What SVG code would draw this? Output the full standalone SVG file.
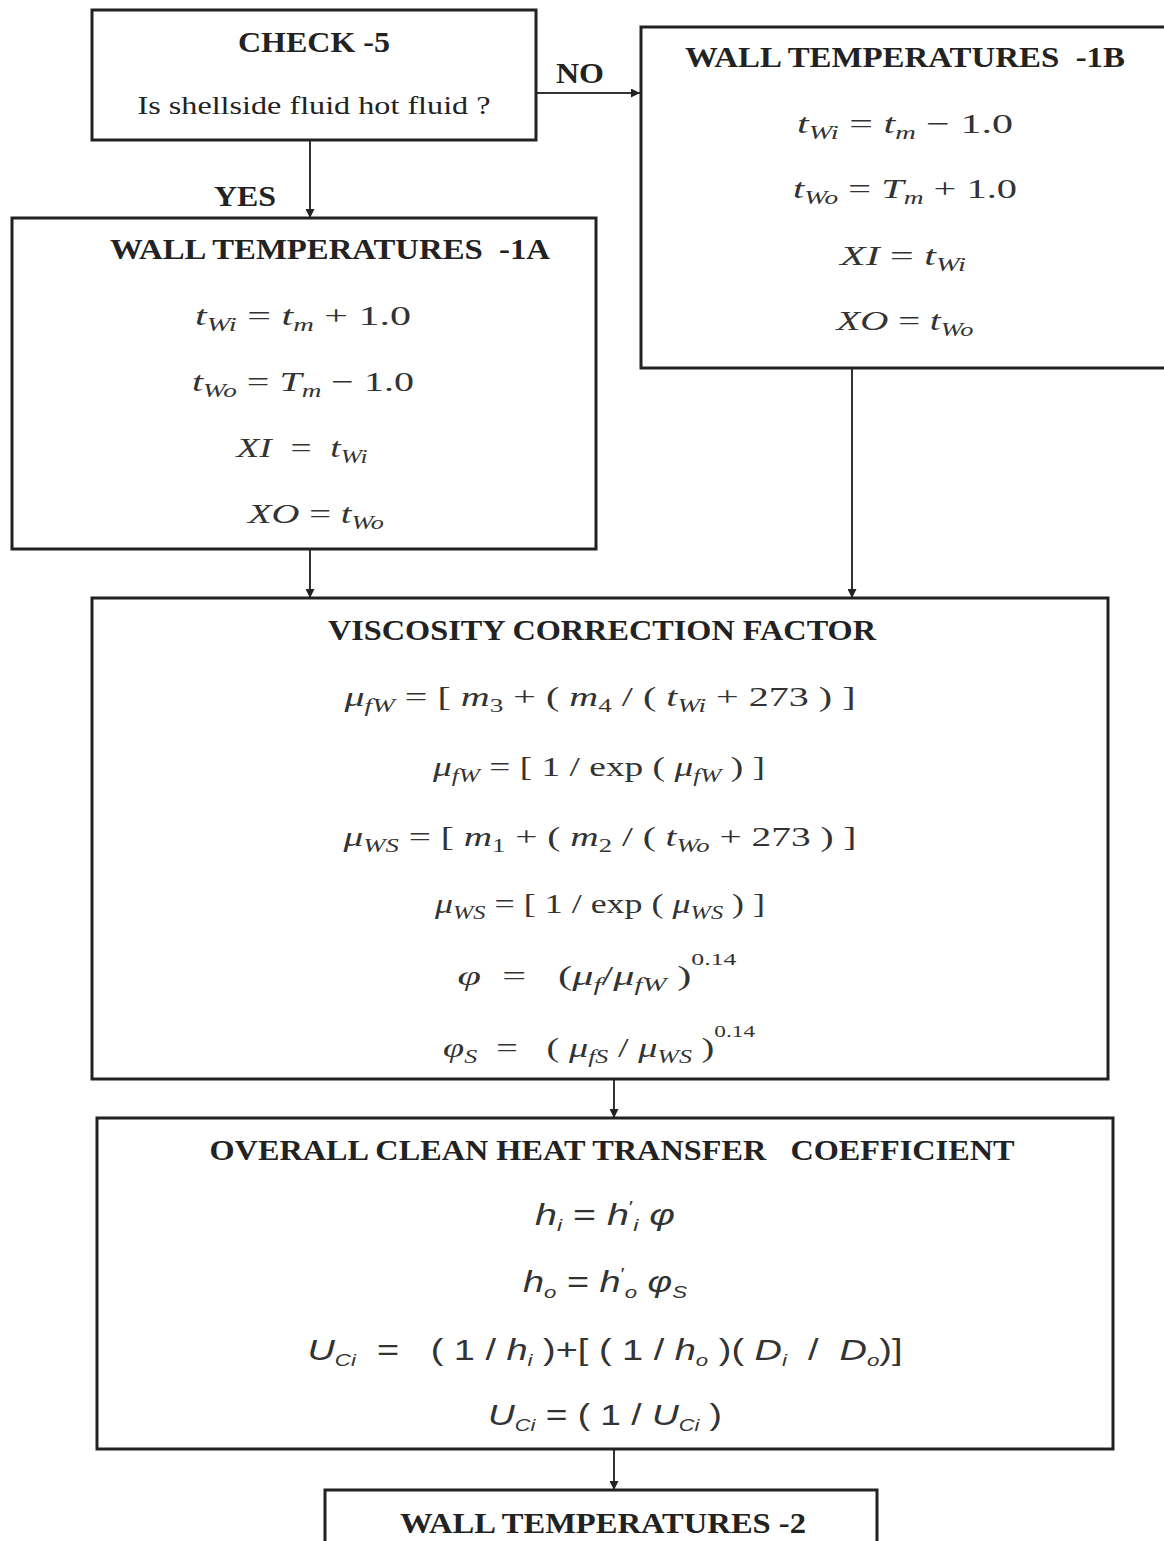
<svg xmlns="http://www.w3.org/2000/svg" width="1164" height="1541" viewBox="0 0 1164 1541">
<defs>
<style>
.box{fill:#fff;stroke:#222;stroke-width:3}
.ttl{font-family:"Liberation Serif","Times New Roman",serif;font-weight:bold;font-size:30px;fill:#222;text-anchor:middle}
.reg{font-family:"Liberation Serif","Times New Roman",serif;font-size:26px;fill:#222;text-anchor:middle}
.eq{font-family:"Liberation Serif","Times New Roman",serif;font-style:italic;font-size:28px;fill:#333;text-anchor:middle}
.eqs{font-family:"Liberation Sans Narrow","Liberation Sans",sans-serif;font-style:italic;font-size:29px;fill:#333;text-anchor:middle}
.up{font-style:normal}
.conn{stroke:#333;stroke-width:2;fill:none;marker-end:url(#ah)}
</style>
<marker id="ah" viewBox="0 0 10 10" refX="10" refY="5" markerWidth="9" markerHeight="9" orient="auto" markerUnits="userSpaceOnUse"><path d="M0,0 L10,5 L0,10 z" fill="#222"/></marker>
</defs>
<rect width="1164" height="1541" fill="#fff"/>

<g id="connectors">
<path class="conn" d="M536,93 H640"/>
<path class="conn" d="M310,140 V218"/>
<path class="conn" d="M310,549 V598"/>
<path class="conn" d="M852,368 V598"/>
<path class="conn" d="M614,1079 V1118"/>
<path class="conn" d="M614,1449 V1490"/>
<text class="ttl" x="580" y="83" font-size="28" textLength="48" lengthAdjust="spacingAndGlyphs">NO</text>
<text class="ttl" x="245" y="206" font-size="28" textLength="62" lengthAdjust="spacingAndGlyphs">YES</text>
</g>

<g id="check5">
<rect class="box" x="92" y="10" width="444" height="130"/>
<text class="ttl" x="314" y="52" textLength="152" lengthAdjust="spacingAndGlyphs">CHECK -5</text>
<text class="reg" x="314" y="114" textLength="353" lengthAdjust="spacingAndGlyphs">Is shellside fluid hot fluid ?</text>
</g>

<g id="wall1b">
<rect class="box" x="641" y="27" width="530" height="341"/>
<text class="ttl" x="905" y="67" textLength="440" lengthAdjust="spacingAndGlyphs" xml:space="preserve">WALL TEMPERATURES  -1B</text>
<text class="eq" x="905" y="133" textLength="216" lengthAdjust="spacingAndGlyphs">t<tspan dy="6" font-size="19">Wi</tspan><tspan dy="-6"> <tspan class="up">=</tspan> t</tspan><tspan dy="6" font-size="19">m</tspan><tspan dy="-6" class="up"> − 1.0</tspan></text>
<text class="eq" x="905" y="198" textLength="224" lengthAdjust="spacingAndGlyphs">t<tspan dy="6" font-size="19">Wo</tspan><tspan dy="-6"> <tspan class="up">=</tspan> T</tspan><tspan dy="6" font-size="19">m</tspan><tspan dy="-6" class="up"> + 1.0</tspan></text>
<text class="eq" x="903" y="265" textLength="126" lengthAdjust="spacingAndGlyphs">XI <tspan class="up">=</tspan> t<tspan dy="6" font-size="19">Wi</tspan></text>
<text class="eq" x="905" y="330" textLength="137" lengthAdjust="spacingAndGlyphs">XO <tspan class="up">=</tspan> t<tspan dy="6" font-size="19">Wo</tspan></text>
</g>

<g id="wall1a">
<rect class="box" x="12" y="218" width="584" height="331"/>
<text class="ttl" x="330" y="259" textLength="440" lengthAdjust="spacingAndGlyphs" xml:space="preserve">WALL TEMPERATURES  -1A</text>
<text class="eq" x="303" y="325" textLength="216" lengthAdjust="spacingAndGlyphs">t<tspan dy="6" font-size="19">Wi</tspan><tspan dy="-6"> <tspan class="up">=</tspan> t</tspan><tspan dy="6" font-size="19">m</tspan><tspan dy="-6" class="up"> + 1.0</tspan></text>
<text class="eq" x="303" y="391" textLength="222" lengthAdjust="spacingAndGlyphs">t<tspan dy="6" font-size="19">Wo</tspan><tspan dy="-6"> <tspan class="up">=</tspan> T</tspan><tspan dy="6" font-size="19">m</tspan><tspan dy="-6" class="up"> − 1.0</tspan></text>
<text class="eq" x="302" y="457" textLength="131" lengthAdjust="spacingAndGlyphs" xml:space="preserve">XI  <tspan class="up">=</tspan>  t<tspan dy="6" font-size="19">Wi</tspan></text>
<text class="eq" x="316" y="523" textLength="136" lengthAdjust="spacingAndGlyphs">XO <tspan class="up">=</tspan> t<tspan dy="6" font-size="19">Wo</tspan></text>
</g>

<g id="viscosity">
<rect class="box" x="92" y="598" width="1016" height="481"/>
<text class="ttl" x="602" y="640" font-size="32" textLength="548" lengthAdjust="spacingAndGlyphs">VISCOSITY CORRECTION FACTOR</text>
<text class="eq" x="600" y="706" textLength="511" lengthAdjust="spacingAndGlyphs">μ<tspan dy="6" font-size="19">fW</tspan><tspan dy="-6" class="up">  = [ </tspan>m<tspan dy="6" font-size="19" class="up">3</tspan><tspan dy="-6" class="up"> + ( </tspan>m<tspan dy="6" font-size="19" class="up">4</tspan><tspan dy="-6" class="up"> / ( </tspan>t<tspan dy="6" font-size="19">Wi</tspan><tspan dy="-6" class="up">  + 273 ) ]</tspan></text>
<text class="eq" x="599" y="776" textLength="332" lengthAdjust="spacingAndGlyphs">μ<tspan dy="6" font-size="19">fW</tspan><tspan dy="-6" class="up">  = [ 1 / exp ( </tspan>μ<tspan dy="6" font-size="19">fW</tspan><tspan dy="-6" class="up"> ) ]</tspan></text>
<text class="eq" x="600" y="846" textLength="513" lengthAdjust="spacingAndGlyphs">μ<tspan dy="6" font-size="19">WS</tspan><tspan dy="-6" class="up">  = [ </tspan>m<tspan dy="6" font-size="19" class="up">1</tspan><tspan dy="-6" class="up"> + ( </tspan>m<tspan dy="6" font-size="19" class="up">2</tspan><tspan dy="-6" class="up"> / ( </tspan>t<tspan dy="6" font-size="19">Wo</tspan><tspan dy="-6" class="up">  + 273 ) ]</tspan></text>
<text class="eq" x="600" y="913" textLength="330" lengthAdjust="spacingAndGlyphs">μ<tspan dy="6" font-size="19">WS</tspan><tspan dy="-6" class="up">  = [ 1 / exp ( </tspan>μ<tspan dy="6" font-size="19">WS</tspan><tspan dy="-6" class="up"> ) ]</tspan></text>
<text class="eq" x="597" y="985" textLength="279" lengthAdjust="spacingAndGlyphs" xml:space="preserve">φ  <tspan class="up">=</tspan>   <tspan class="up">(</tspan>μ<tspan dy="6" font-size="19">f</tspan><tspan dy="-6" class="up">/</tspan>μ<tspan dy="6" font-size="19">fW</tspan><tspan dy="-6" class="up"> )</tspan><tspan dy="-20" font-size="17" class="up">0.14</tspan></text>
<text class="eq" x="599" y="1057" textLength="312" lengthAdjust="spacingAndGlyphs" xml:space="preserve">φ<tspan dy="6" font-size="19">S</tspan><tspan dy="-6" class="up">  =   ( </tspan>μ<tspan dy="6" font-size="19">fS</tspan><tspan dy="-6" class="up"> / </tspan>μ<tspan dy="6" font-size="19">WS</tspan><tspan dy="-6" class="up"> )</tspan><tspan dy="-20" font-size="17" class="up">0.14</tspan></text>
</g>

<g id="overall">
<rect class="box" x="97" y="1118" width="1016" height="331"/>
<text class="ttl" x="612" y="1160" font-size="32" textLength="805" lengthAdjust="spacingAndGlyphs" xml:space="preserve">OVERALL CLEAN HEAT TRANSFER   COEFFICIENT</text>
<text class="eqs" x="605" y="1225" textLength="140" lengthAdjust="spacingAndGlyphs">h<tspan dy="6" font-size="17">i</tspan><tspan dy="-6" class="up"> = </tspan>h<tspan dy="-12" font-size="17" class="up">′</tspan><tspan dy="18" font-size="17">i</tspan><tspan dy="-6"> φ</tspan></text>
<text class="eqs" x="605" y="1292" textLength="164" lengthAdjust="spacingAndGlyphs">h<tspan dy="6" font-size="17">o</tspan><tspan dy="-6" class="up"> = </tspan>h<tspan dy="-12" font-size="17" class="up">′</tspan><tspan dy="18" font-size="17">o</tspan><tspan dy="-6"> φ</tspan><tspan dy="6" font-size="17">S</tspan></text>
<text class="eqs" x="605" y="1360" textLength="595" lengthAdjust="spacingAndGlyphs" xml:space="preserve">U<tspan dy="6" font-size="17">Ci</tspan><tspan dy="-6" class="up">  =   ( 1 / </tspan>h<tspan dy="6" font-size="17">i</tspan><tspan dy="-6" class="up"> )+[ ( 1 / </tspan>h<tspan dy="6" font-size="17">o</tspan><tspan dy="-6" class="up"> )( </tspan>D<tspan dy="6" font-size="17">i</tspan><tspan dy="-6" class="up">  /  </tspan>D<tspan dy="6" font-size="17">o</tspan><tspan dy="-6" class="up">)]</tspan></text>
<text class="eqs" x="605" y="1425" textLength="234" lengthAdjust="spacingAndGlyphs">U<tspan dy="6" font-size="17">Ci</tspan><tspan dy="-6" class="up"> = ( 1 / </tspan>U<tspan dy="6" font-size="17">Ci</tspan><tspan dy="-6" class="up"> )</tspan></text>
</g>

<g id="wall2">
<rect class="box" x="325" y="1490" width="552" height="70"/>
<text class="ttl" x="603" y="1533" textLength="406" lengthAdjust="spacingAndGlyphs">WALL TEMPERATURES -2</text>
</g>
</svg>
